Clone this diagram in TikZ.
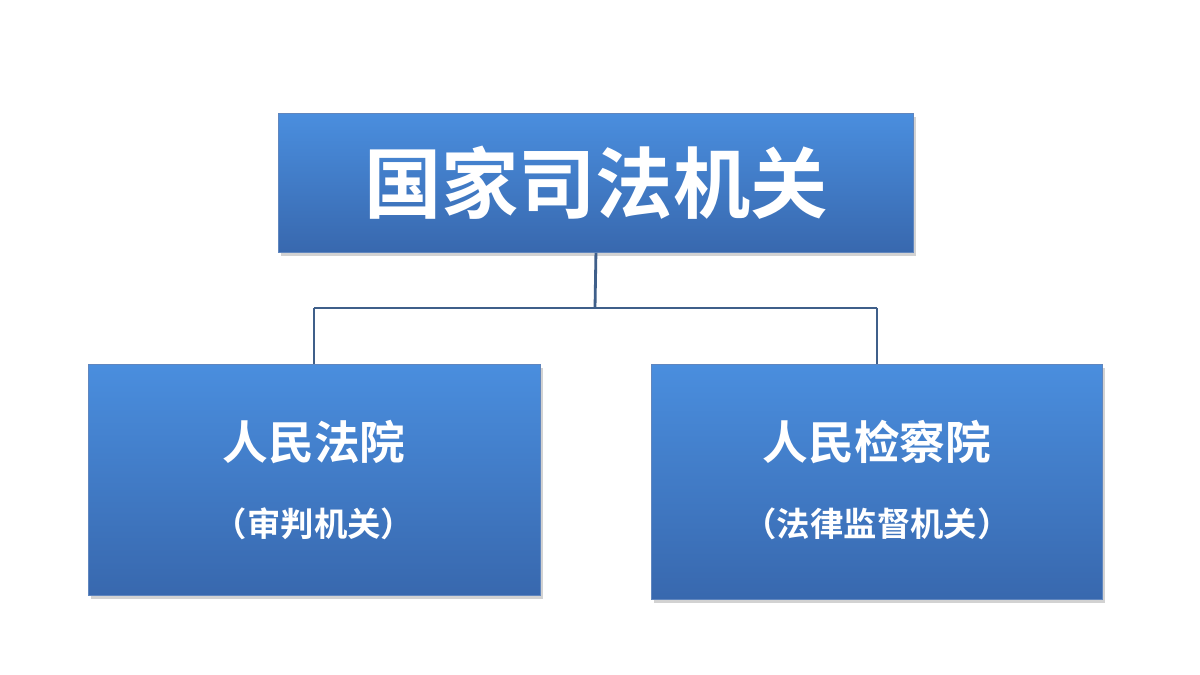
\documentclass[tikz,border=0pt]{standalone}
\usepackage{fontspec}
\newfontfamily\cjk{Noto Sans CJK SC Bold}
\usetikzlibrary{shadows}
\definecolor{topc}{HTML}{4A8EDE}
\definecolor{botc}{HTML}{3868AE}
\definecolor{linec}{HTML}{3F5F8A}
\tikzset{
 box/.style={draw=botc!80!white,line width=0.5pt,top color=topc,bottom color=botc,anchor=north west,inner sep=0pt,text=white,align=center,
   drop shadow={shadow xshift=1.5pt,shadow yshift=-2pt,opacity=0.35}},
 conn/.style={draw=linec,line width=1.6pt}
}
\begin{document}
\begin{tikzpicture}[x=0.02cm,y=-0.02cm]
\useasboundingbox[fill=white] (0,0) rectangle (1200,675);
\node[box,minimum width=635*0.02cm,minimum height=139*0.02cm] (top) at (278,113) {\cjk\fontsize{44}{50}\selectfont 国家司法机关};
\node[box,minimum width=452*0.02cm,minimum height=231*0.02cm] (l) at (88,364) {};
\node[box,minimum width=451*0.02cm,minimum height=235*0.02cm] (r) at (651,364) {};
\node[text=white] (lt) at (314,442) {\cjk\fontsize{26}{30}\selectfont 人民法院};
\node[text=white] (ls) at (314,524) {\cjk\fontsize{19}{22}\selectfont （审判机关）};
\node[text=white] (rt) at (877,442) {\cjk\fontsize{26}{30}\selectfont 人民检察院};
\node[text=white] (rs) at (877,524) {\cjk\fontsize{19}{22}\selectfont （法律监督机关）};
\coordinate (m) at (595,308);
\coordinate (lm) at (314,308);
\coordinate (rm) at (877,308);
\draw[conn] (top.south) -- (m);
\draw[conn] (lm) -- (rm);
\draw[conn] (lm) -- (lm |- l.north);
\draw[conn] (rm) -- (rm |- r.north);
\end{tikzpicture}
\end{document}
